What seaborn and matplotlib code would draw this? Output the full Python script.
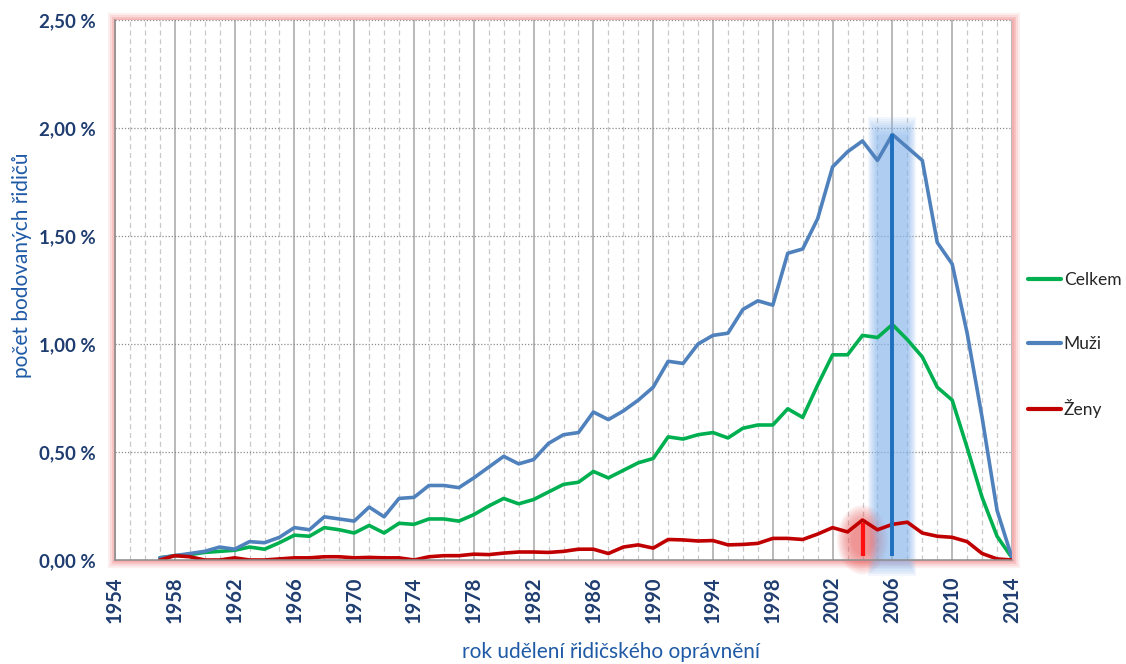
import numpy as np
import pandas as pd
import seaborn as sns
import matplotlib.pyplot as plt
from matplotlib.patches import Rectangle, Ellipse
from matplotlib.ticker import FuncFormatter, MultipleLocator

# data (share of drivers with points, %)
years = list(range(1957, 2015))
muzi = [0.01, 0.02, 0.03, 0.04, 0.06, 0.05, 0.085, 0.08, 0.105, 0.15,
        0.14, 0.20, 0.19, 0.18, 0.245, 0.20, 0.285, 0.29, 0.345, 0.345,
        0.335, 0.38, 0.43, 0.48, 0.445, 0.465, 0.54, 0.58, 0.59, 0.685,
        0.65, 0.69, 0.74, 0.80, 0.92, 0.91, 1.00, 1.04, 1.05, 1.16,
        1.20, 1.18, 1.42, 1.44, 1.58, 1.82, 1.89, 1.94, 1.85, 1.97,
        1.91, 1.85, 1.47, 1.37, 1.05, 0.66, 0.23, 0.01]
celkem = [0.01, 0.02, 0.025, 0.035, 0.04, 0.045, 0.06, 0.05, 0.08, 0.115,
          0.11, 0.15, 0.14, 0.125, 0.16, 0.125, 0.17, 0.165, 0.19, 0.19,
          0.18, 0.21, 0.25, 0.285, 0.26, 0.28, 0.315, 0.35, 0.36, 0.41,
          0.38, 0.415, 0.45, 0.47, 0.57, 0.56, 0.58, 0.59, 0.565, 0.61,
          0.625, 0.625, 0.70, 0.66, 0.81, 0.95, 0.95, 1.04, 1.03, 1.09,
          1.02, 0.94, 0.80, 0.74, 0.52, 0.29, 0.11, 0.01]
zeny = [0.0, 0.02, 0.015, 0.0, 0.0, 0.01, 0.0, 0.0, 0.005, 0.01,
        0.01, 0.015, 0.015, 0.01, 0.012, 0.01, 0.01, 0.0, 0.015, 0.02,
        0.02, 0.027, 0.025, 0.032, 0.037, 0.037, 0.035, 0.04, 0.05, 0.05,
        0.03, 0.06, 0.07, 0.055, 0.095, 0.093, 0.088, 0.09, 0.07, 0.072,
        0.077, 0.10, 0.10, 0.095, 0.12, 0.15, 0.13, 0.185, 0.14, 0.165,
        0.175, 0.125, 0.11, 0.105, 0.085, 0.03, 0.005, 0.0]

series = ["Celkem", "Muži", "Ženy"]
colors = {"Celkem": "#00b050", "Muži": "#4f81bd", "Ženy": "#c00000"}
year_ticks = list(range(1954, 2015, 4))
peak_men = 2006
peak_women = 2004

df = pd.DataFrame({"rok": years, "Celkem": celkem, "Muži": muzi, "Ženy": zeny})
long = df.melt(id_vars="rok", var_name="skupina", value_name="podil")

sns.set_style("white")
plt.rcParams["font.family"] = ["Lato", "DejaVu Sans"]

fig = plt.figure(figsize=(11.26, 6.64), dpi=100)
ax = fig.add_axes([115 / 1126, 1 - 560 / 664, 897 / 1126, 540 / 664])
ax.set_zorder(1)
ax.patch.set_facecolor("white")

# soft pink glow around the plot area (outer half only, inner half is under the axes)
for lw, a in [(11, 0.12), (8, 0.18), (5, 0.25), (2.5, 0.3)]:
    fig.patches.append(Rectangle((115 / 1126, 1 - 560 / 664), 897 / 1126, 540 / 664,
                                 transform=fig.transFigure, fill=False,
                                 edgecolor="#f08080", lw=lw, alpha=a, zorder=-1))

# highlight glows
n = 10
for k in range(n):
    hw = 1.6 - 0.065 * k
    y0 = -0.075 + 0.008 * k
    y1 = 2.05 - 0.009 * k
    ax.add_patch(Rectangle((peak_men - hw, y0), 2 * hw, y1 - y0,
                           facecolor="#8ab8ee", edgecolor="none", alpha=0.1,
                           zorder=1.5, clip_on=False))
    ax.add_patch(Ellipse((peak_women, 0.093), 3.4 - 0.22 * k, 0.32 - 0.02 * k,
                         facecolor="#eb6464", edgecolor="none", alpha=0.1,
                         zorder=1.5, clip_on=False))

sns.lineplot(data=long, x="rok", y="podil", hue="skupina", hue_order=series,
             palette=colors, linewidth=2.6, ax=ax, zorder=2)

ax.vlines(peak_men, 0.02, max(muzi), color="#1f6fbf", lw=2.8, zorder=4)
ax.vlines(peak_women, 0.02, 0.17, color="#ff1010", lw=3, zorder=4)

ax.set_xlim(1954, 2014)
ax.set_ylim(0, 2.5)
ax.set_xticks(year_ticks)
ax.set_xticks(list(range(1954, 2015)), minor=True)
ax.yaxis.set_major_locator(MultipleLocator(0.5))
ax.yaxis.set_major_formatter(FuncFormatter(lambda v, p: f"{v:.2f} %".replace(".", ",")))

ax.grid(which="major", axis="x", color="#a6a6a6", lw=1.1, ls="-")
ax.grid(which="minor", axis="x", color="#c8c8c8", lw=0.9, ls=(0, (4, 3)))
ax.grid(which="major", axis="y", color="#8c8c8c", lw=0.9, ls=(0, (1, 1.5)))
ax.set_axisbelow(True)

for s in ["top", "right"]:
    ax.spines[s].set_visible(False)
for s in ["left", "bottom"]:
    ax.spines[s].set_color("#8c8c8c")
    ax.spines[s].set_linewidth(1.1)

ax.tick_params(axis="both", which="major", length=4, color="#8c8c8c", width=1)
ax.tick_params(axis="x", which="minor", length=0)
ax.tick_params(axis="y", pad=10)
ax.tick_params(axis="x", pad=8)
for t in ax.get_yticklabels():
    t.set_fontsize(13.5)
for t in ax.get_xticklabels():
    t.set_fontsize(14.5)
    t.set_rotation(90)
for t in ax.get_yticklabels() + ax.get_xticklabels():
    t.set_fontweight("bold")
    t.set_color("#1f3d70")

lab_font = dict(size=15, color="#1f5aa6")
ax.set_ylabel("počet bodovaných řidičů", **lab_font)
ax.set_xlabel("rok udělení řidičského oprávnění", **lab_font)
ax.yaxis.set_label_coords(-0.104, (560 - 265) / 540)
ax.xaxis.set_label_coords((611 - 115) / 897, -(652 - 560) / 540)
ax.xaxis.label.set_va("center")
ax.yaxis.label.set_va("center")

handles, labels = ax.get_legend_handles_labels()
for h in handles:
    h.set_linewidth(3)
ax.legend(handles, labels, loc="center left", bbox_to_anchor=(1.018, 0.398),
          frameon=False, fontsize=12.5, handlelength=1.9, handletextpad=0.15,
          labelspacing=2.75, borderaxespad=0, borderpad=0)

fig.savefig("out.png", dpi=100)
